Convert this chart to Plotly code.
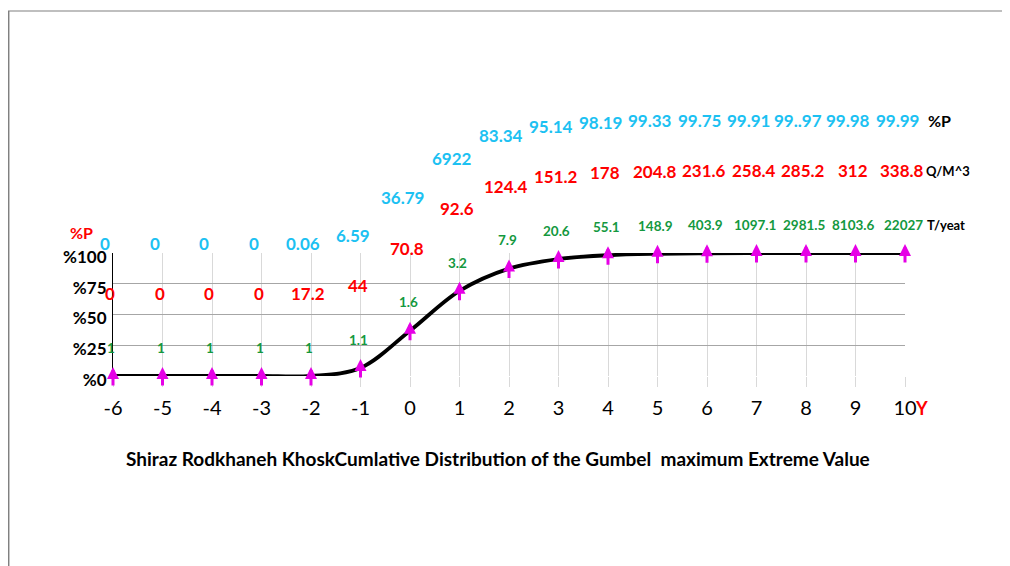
import plotly.graph_objects as go

# ---- data ----
Y_VALUES = list(range(-6, 11))
Y_TICKTEXT_X = [str(v) for v in Y_VALUES]
P_CURVE = [0, 0, 0, 0, 0.06, 6.6, 36.79, 69.22, 87.34, 95.14, 98.19, 99.33, 99.75, 99.91, 99.97, 99.98, 99.99]
P_LABELS = ["0", "0", "0", "0", "0.06", "6.59", "36.79", "6922", "83.34", "95.14", "98.19",
            "99.33", "99.75", "99.91", "99..97", "99.98", "99.99"]
Q_LABELS = ["0", "0", "0", "0", "17.2", "44", "70.8", "92.6", "124.4", "151.2", "178",
            "204.8", "231.6", "258.4", "285.2", "312", "338.8"]
T_LABELS = ["1", "1", "1", "1", "1", "1.1", "1.6", "3.2", "7.9", "20.6", "55.1",
            "148.9", "403.9", "1097.1", "2981.5", "8103.6", "22027"]
Y_TICKS = [0, 25, 50, 75, 100]
Y_TICKTEXT = ["%0", "%25", "%50", "%75", "%100"]
TITLE = "Shiraz Rodkhaneh KhoskCumlative Distribution of the Gumbel  maximum Extreme Value"

FONT = "Lato"
CYAN = "#1cc1f2"
RED = "#ff0000"
GREEN = "#14983e"
MAG = "#e600e6"

XMIN, XMAX, YMIN, YMAX = -6, 10, 0, 100

# figure pixel geometry (page adds an 8px body margin)
L, R, T, B = 105, 113, 245, 198
W, H = 1010 - L - R, 566 - T - B


def xp(x):  # data x -> paper
    return (x - XMIN) / (XMAX - XMIN)


def yp(y):  # data y -> paper
    return (y - YMIN) / (YMAX - YMIN)


def pxp(px):  # figure pixel -> paper
    return (px - L) / W


def pyp(py):
    return (566 - B - py) / H


def label(x, y, text, size, color, xshift=0, bold=True):
    return dict(x=xp(x), y=yp(y), xref="paper", yref="paper", text=text, showarrow=False,
                xanchor="center", yanchor="middle", xshift=xshift,
                font=dict(family=FONT, size=size, color=color,
                          weight="bold" if bold else "normal"))


fig = go.Figure()
fig.add_trace(go.Scatter(
    x=Y_VALUES, y=P_CURVE, mode="lines",
    line=dict(color="black", width=3.8, shape="spline", smoothing=1.0),
    cliponaxis=False, hoverinfo="skip", showlegend=False))

ann = []
# magenta arrows at each point
for x, p in zip(Y_VALUES, P_CURVE):
    ann.append(dict(x=xp(x), y=yp(p) + 9 / H, xref="paper", yref="paper", ax=0, ay=20,
                    text="", showarrow=True, arrowhead=2, arrowsize=0.8, arrowwidth=3,
                    arrowcolor=MAG))
# label rows
for x, p, pl, ql, tl in zip(Y_VALUES, P_CURVE, P_LABELS, Q_LABELS, T_LABELS):
    ann.append(label(x, p + 108, pl, 17, CYAN, -8))
    ann.append(label(x, p + 67, ql, 17, RED, -3))
    ann.append(label(x, p + 23, tl, 13.5, GREEN, -2))

ann += [
    label(10.7, 208, "%P", 16, "black"),
    label(10.86, 167, "Q/M^3", 13, "black"),
    label(10.82, 123, "T/yeat", 13, "black"),
    label(-6.63, 116.5, "%P", 16, RED),
    label(10.34, -26, "Y", 18, RED),
    label(1.78, -67, TITLE, 19, "black"),
]

shapes = [
    dict(type="line", xref="paper", yref="paper", x0=pxp(0), x1=pxp(1012), y0=pyp(3), y1=pyp(3),
         line=dict(color="#bfbfbf", width=2)),
    dict(type="line", xref="paper", yref="paper", x0=pxp(0.7), x1=pxp(0.7), y0=pyp(3), y1=pyp(570),
         line=dict(color="#808080", width=1.5)),
]

fig.update_layout(
    width=1010, height=566,
    margin=dict(l=L, r=R, t=T, b=B),
    paper_bgcolor="white", plot_bgcolor="white",
    font=dict(family=FONT, color="black"),
    annotations=ann, shapes=shapes, showlegend=False,
    xaxis=dict(range=[XMIN, XMAX], tickvals=Y_VALUES, ticktext=Y_TICKTEXT_X, showgrid=True,
               gridcolor="#d9d9d9", gridwidth=1, zeroline=False, showline=False,
               ticks="outside", ticklen=10, tickcolor="#d9d9d9",
               tickfont=dict(family=FONT, size=20, color="black"), ticklabelstandoff=4),
    yaxis=dict(range=[YMIN, YMAX], tickvals=Y_TICKS, ticktext=Y_TICKTEXT, showgrid=True,
               gridcolor="#a6a6a6", gridwidth=1, zeroline=False, showline=True,
               linecolor="black", linewidth=1.2, ticks="", ticklabelstandoff=2,
               ticklabelshift=4,
               tickfont=dict(family=FONT, size=17, color="black", weight="bold")),
)

fig.write_html("out.html")
